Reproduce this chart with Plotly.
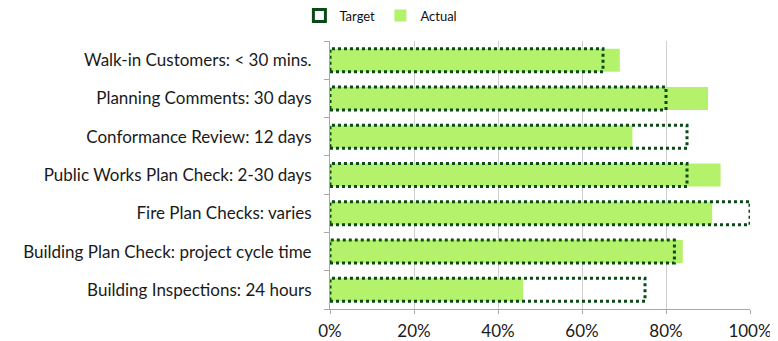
import plotly.graph_objects as go

categories = [
    "Building Inspections: 24 hours",
    "Building Plan Check: project cycle time",
    "Fire Plan Checks: varies",
    "Public Works Plan Check: 2-30 days",
    "Conformance Review: 12 days",
    "Planning Comments: 30 days",
    "Walk-in Customers: < 30 mins.",
]
target = [75, 82, 100, 85, 85, 80, 65]
actual = [46, 84, 91, 93, 72, 90, 69]
x_ticks = [0, 20, 40, 60, 80, 100]
x_tick_labels = ["0%", "20%", "40%", "60%", "80%", "100%"]

GREEN = "#b5f26c"
DARK = "#0a4a17"
FONT = "Lato"
BAR_W = 0.6

ypos = list(range(len(categories)))

fig = go.Figure()
fig.add_trace(go.Bar(
    y=ypos, x=actual, orientation="h", width=BAR_W,
    marker=dict(color=GREEN, line=dict(width=0)),
    name="Actual", showlegend=True,
))

for i, t in enumerate(target):
    fig.add_shape(
        type="rect", xref="x", yref="y",
        x0=0, x1=t, y0=ypos[i] - BAR_W / 2, y1=ypos[i] + BAR_W / 2,
        line=dict(color=DARK, width=3, dash="dot"),
        fillcolor="rgba(0,0,0,0)", layer="above",
        name="Target", legendgroup="target", showlegend=(i == 0),
        legendrank=1,
    )

# page body has an 8px margin; figure sized to fill the rest of the window
fig.update_layout(
    width=770, height=333,
    margin=dict(l=322, r=28, t=33, b=32, autoexpand=False),
    plot_bgcolor="white", paper_bgcolor="white",
    font=dict(family=FONT, size=17, color="#1a1a1a"),
    legend=dict(
        orientation="h", xref="paper", yref="paper",
        x=0.12, xanchor="center", y=1.095, yanchor="middle",
        font=dict(size=13, color="#111111"), traceorder="normal",
        itemwidth=30, entrywidth=36,
    ),
    xaxis=dict(
        range=[0, 100], tickvals=x_ticks, ticktext=x_tick_labels,
        showgrid=True, gridcolor="#cfcfcf", gridwidth=1,
        zeroline=False, showline=True, linecolor="#a8a8a8", linewidth=1,
        ticks="outside", ticklen=4, tickcolor="#a8a8a8",
        ticklabelstandoff=3, automargin=False,
        tickfont=dict(size=17),
    ),
    yaxis=dict(
        range=[-0.5, len(categories) - 0.5],
        tickvals=ypos, ticktext=categories,
        showgrid=False, zeroline=False, automargin=False,
        showline=True, linecolor="#a8a8a8", linewidth=1,
        ticks="", ticklabelstandoff=14,
        minor=dict(tickvals=[v - 0.5 for v in range(len(categories) + 1)],
                   ticks="outside", ticklen=5, tickcolor="#a8a8a8", showgrid=False),
        tickfont=dict(size=17),
    ),
)

fig.write_html("out.html")
